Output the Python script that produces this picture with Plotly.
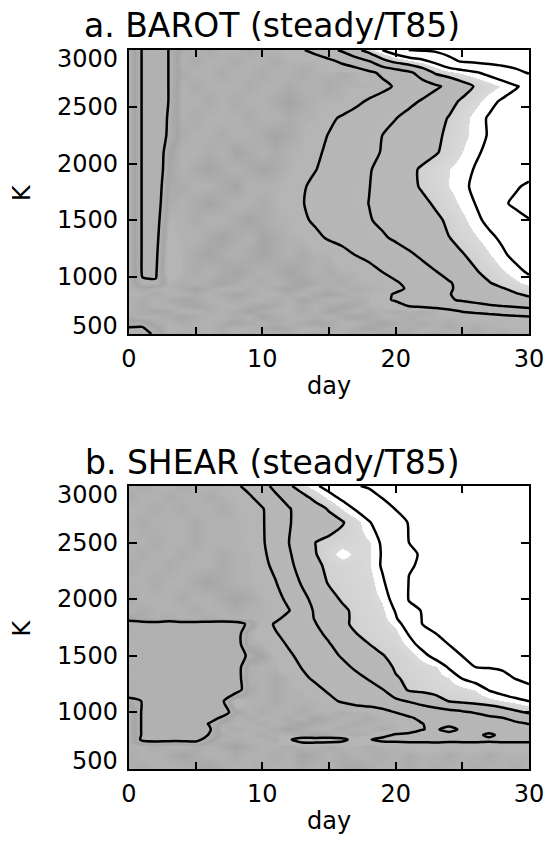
import plotly.graph_objects as go

# ---------------- data ----------------
days = list(range(31))

tick_days = [0, 5, 10, 15, 20, 25, 30]
tick_day_text = ["0", "", "10", "", "20", "", "30"]
tick_k = [500, 1000, 1500, 2000, 2500, 3000]

title_a = "a. BAROT (steady/T85)"
title_b = "b. SHEAR (steady/T85)"

# Panel a: field values (rows at K levels listed in barot_k)
barot_k = [500, 550, 600, 650, 700, 750, 800, 850, 900, 950, 1050, 1200, 1350,
           1500, 1650, 1800, 1950, 2100, 2250, 2400, 2550, 2680, 2800, 2900, 3000]

barot_k500 = [6.15, 6.2, 5.9, 5.5, 5.6, 5.5, 5.5, 5.6, 5.5, 5.6, 5.5, 5.5, 5.6, 5.5, 5.6, 5.5, 5.5, 5.6, 5.5, 5.6, 5.7, 5.6, 5.5, 5.6, 5.5, 5.5, 5.6, 5.5, 5.6, 5.5, 5.5]
barot_k550 = [6.03, 6.05, 5.75, 5.5, 5.5, 5.6, 5.5, 5.6, 5.5, 5.5, 5.6, 5.7, 5.6, 5.5, 5.5, 5.6, 5.5, 5.6, 5.7, 5.6, 5.5, 5.6, 5.5, 5.5, 5.6, 5.5, 5.6, 5.5, 5.5, 5.45, 5.4]
barot_k600 = [5.85, 5.85, 5.6, 5.5, 5.6, 5.5, 5.5, 5.6, 5.7, 5.6, 5.5, 5.6, 5.5, 5.6, 5.7, 5.6, 5.5, 5.5, 5.6, 5.7, 5.6, 5.5, 5.6, 5.5, 5.6, 5.5, 5.5, 5.45, 5.4, 5.35, 5.3]
barot_k650 = [5.6, 5.5, 5.5, 5.6, 5.7, 5.6, 5.5, 5.5, 5.6, 5.5, 5.7, 5.6, 5.5, 5.5, 5.6, 5.5, 5.6, 5.7, 5.6, 5.5, 5.5, 5.6, 5.5, 5.5, 5.5, 5.45, 5.35, 5.28, 5.2, 5.13, 5.07]
barot_k700 = [5.5, 5.6, 5.7, 5.6, 5.5, 5.5, 5.6, 5.5, 5.6, 5.7, 5.6, 5.5, 5.5, 5.6, 5.5, 5.7, 5.6, 5.5, 5.6, 5.5, 5.6, 5.5, 5.6, 5.5, 5.23, 4.96, 4.84, 4.72, 4.6, 4.47, 4.35]
barot_k750 = [5.5, 5.6, 5.5, 5.5, 5.6, 5.7, 5.6, 5.5, 5.5, 5.6, 5.7, 5.6, 5.5, 5.6, 5.5, 5.6, 5.7, 5.6, 5.5, 5.5, 5.3, 4.94, 4.8, 4.65, 4.51, 4.36, 4.22, 4.07, 3.95, 3.85, 3.75]
barot_k800 = [5.5, 5.6, 5.5, 5.6, 5.7, 5.6, 5.5, 5.5, 5.6, 5.5, 5.5, 5.6, 5.5, 5.7, 5.6, 5.5, 5.5, 5.6, 5.5, 5.18, 4.91, 4.7, 4.49, 4.29, 4.08, 3.91, 3.76, 3.61, 3.45, 3.3, 3.15]
barot_k850 = [5.5, 5.5, 5.6, 5.5, 5.5, 5.6, 5.5, 5.6, 5.7, 5.6, 5.5, 5.5, 5.6, 5.5, 5.6, 5.7, 5.6, 5.5, 5.5, 5.22, 4.92, 4.7, 4.48, 4.26, 4.03, 3.83, 3.64, 3.45, 3.25, 3.06, 2.9]
barot_k900 = [5.5, 5.6, 5.5, 5.5, 5.6, 5.7, 5.6, 5.5, 5.5, 5.6, 5.5, 5.6, 5.7, 5.6, 5.5, 5.6, 5.5, 5.6, 5.5, 5.5, 5.2, 4.89, 4.62, 4.35, 4.08, 3.82, 3.56, 3.31, 3.05, 2.82, 2.6]
barot_k950 = [5.5, 5.97, 5.97, 5.5, 5.6, 5.5, 5.6, 5.7, 5.6, 5.5, 5.6, 5.5, 5.6, 5.7, 5.6, 5.5, 5.6, 5.5, 5.5, 5.42, 5.08, 4.81, 4.57, 4.32, 4.07, 3.75, 3.39, 3.04, 2.77, 2.51, 2.25]
barot_k1050 = [5.5, 6.03, 6.05, 5.3, 5.5, 5.6, 5.5, 5.6, 5.7, 5.6, 5.5, 5.6, 5.7, 5.6, 5.5, 5.6, 5.5, 5.5, 5.3, 4.98, 4.74, 4.5, 4.26, 4.02, 3.71, 3.39, 3.06, 2.76, 2.47, 2.18, 1.9]
barot_k1200 = [5.5, 6.03, 6.1, 5.3, 5.5, 5.6, 5.7, 5.6, 5.5, 5.6, 5.7, 5.6, 5.5, 5.6, 5.5, 5.5, 5.28, 4.97, 4.75, 4.54, 4.32, 4.11, 3.86, 3.59, 3.32, 3.05, 2.75, 2.43, 2.11, 1.8, 1.5]
barot_k1350 = [5.5, 6.03, 6.15, 5.4, 5.5, 5.5, 5.6, 5.7, 5.6, 5.5, 5.7, 5.6, 5.5, 5.5, 5.17, 4.9, 4.7, 4.49, 4.29, 4.09, 3.88, 3.66, 3.45, 3.23, 3.01, 2.72, 2.43, 2.14, 1.88, 1.64, 1.4]
barot_k1500 = [5.5, 6.03, 6.2, 5.49, 5.5, 5.6, 5.5, 5.5, 5.6, 5.7, 5.6, 5.5, 5.47, 5.13, 4.88, 4.67, 4.46, 4.26, 4.05, 3.86, 3.68, 3.5, 3.31, 3.13, 2.89, 2.52, 2.15, 1.84, 1.58, 1.31, 1.05]
barot_k1650 = [5.5, 6.03, 6.25, 5.59, 5.5, 5.6, 5.7, 5.6, 5.5, 5.5, 5.6, 5.5, 5.37, 5.03, 4.81, 4.61, 4.4, 4.2, 3.99, 3.78, 3.57, 3.36, 3.15, 2.91, 2.6, 2.29, 1.98, 1.55, 1.13, 0.84, 0.6]
barot_k1800 = [5.5, 6.03, 6.3, 5.63, 5.6, 5.5, 5.5, 5.6, 5.7, 5.5, 5.5, 5.5, 5.4, 5.07, 4.84, 4.63, 4.43, 4.22, 4.02, 3.75, 3.47, 3.19, 2.92, 2.66, 2.39, 2.13, 1.87, 1.62, 1.36, 1.1, 0.85]
barot_k1950 = [5.5, 6.03, 6.4, 5.67, 5.5, 5.6, 5.7, 5.6, 5.5, 5.6, 5.7, 5.6, 5.5, 5.35, 5.02, 4.77, 4.54, 4.3, 4.06, 3.78, 3.48, 3.18, 2.9, 2.66, 2.41, 2.17, 1.96, 1.82, 1.68, 1.54, 1.4]
barot_k2100 = [5.5, 6.03, 6.4, 5.73, 5.5, 5.5, 5.6, 5.5, 5.7, 5.6, 5.5, 5.6, 5.5, 5.47, 5.13, 4.86, 4.64, 4.41, 4.18, 3.96, 3.73, 3.51, 3.29, 3.07, 2.76, 2.41, 2.07, 1.89, 1.76, 1.63, 1.5]
barot_k2250 = [5.5, 6.03, 6.4, 5.9, 5.6, 5.5, 5.5, 5.6, 5.5, 5.5, 5.6, 5.7, 5.6, 5.5, 5.28, 4.96, 4.72, 4.48, 4.24, 4.0, 3.78, 3.57, 3.35, 3.13, 2.87, 2.55, 2.23, 1.95, 1.8, 1.65, 1.5]
barot_k2400 = [5.5, 6.03, 6.4, 5.93, 5.5, 5.6, 5.5, 5.5, 5.5, 5.6, 5.5, 5.5, 5.6, 5.5, 5.5, 5.17, 4.89, 4.67, 4.46, 4.24, 4.02, 3.76, 3.5, 3.24, 2.96, 2.59, 2.22, 1.94, 1.79, 1.65, 1.5]
barot_k2550 = [5.5, 6.03, 6.4, 5.98, 5.5, 5.5, 5.6, 5.5, 5.6, 5.5, 5.5, 5.6, 5.7, 5.6, 5.5, 5.5, 5.5, 5.2, 4.9, 4.67, 4.43, 4.19, 3.93, 3.59, 3.24, 2.89, 2.54, 2.18, 1.92, 1.76, 1.6]
barot_k2680 = [5.5, 6.03, 6.4, 5.98, 5.5, 5.6, 5.5, 5.5, 5.5, 5.6, 5.5, 5.5, 5.6, 5.5, 5.5, 5.6, 5.5, 5.5, 5.5, 5.22, 4.91, 4.65, 4.4, 4.14, 3.8, 3.34, 2.93, 2.64, 2.35, 2.06, 1.8]
barot_k2800 = [5.5, 6.03, 6.4, 5.98, 5.6, 5.5, 5.5, 5.6, 5.5, 5.5, 5.6, 5.5, 5.5, 5.6, 5.5, 5.5, 5.6, 5.5, 5.17, 4.84, 4.52, 4.19, 3.58, 2.88, 2.61, 2.35, 2.08, 1.8, 1.51, 1.23, 0.94]
barot_k2900 = [5.5, 6.03, 6.4, 5.98, 5.5, 5.6, 5.5, 5.5, 5.6, 5.5, 5.5, 5.6, 5.5, 5.5, 5.5, 5.2, 4.84, 4.44, 4.04, 3.28, 2.81, 2.51, 2.21, 1.81, 1.19, 0.94, 0.85, 0.76, 0.68, 0.59, 0.5]
barot_k3000 = [5.5, 6.03, 6.4, 5.98, 5.6, 5.5, 5.6, 5.5, 5.5, 5.6, 5.5, 5.5, 5.4, 5.07, 4.69, 4.29, 3.85, 3.26, 2.65, 2.0, 1.47, 0.99, 0.92, 0.84, 0.76, 0.68, 0.61, 0.53, 0.45, 0.38, 0.3]

# Panel b: field values (rows at K levels listed in shear_k)
shear_k = [500, 620, 700, 760, 800, 850, 900, 950, 1000, 1100, 1200, 1300, 1400, 1500,
           1600, 1700, 1780, 1830, 1900, 2000, 2150, 2300, 2400, 2500, 2680, 2800, 2900, 3000]

shear_k500 = [5.5, 5.6, 5.5, 5.5, 5.5, 5.6, 5.7, 5.6, 5.5, 5.5, 5.6, 5.5, 5.5, 5.6, 5.5, 5.5, 5.6, 5.7, 5.6, 5.5, 5.5, 5.6, 5.5, 5.6, 5.5, 5.5, 5.6, 5.5, 5.5, 5.6, 5.5]
shear_k620 = [5.6, 5.5, 5.5, 5.6, 5.7, 5.6, 5.5, 5.5, 5.6, 5.5, 5.5, 5.6, 5.5, 5.7, 5.6, 5.5, 5.6, 5.5, 5.5, 5.6, 5.5, 5.6, 5.5, 5.5, 5.6, 5.5, 5.5, 5.6, 5.5, 5.5, 5.5]
shear_k700 = [5.5, 5.5, 5.6, 5.5, 5.5, 5.6, 5.5, 5.6, 5.7, 5.6, 5.5, 5.5, 5.6, 5.5, 5.5, 5.6, 5.5, 5.5, 5.6, 5.5, 5.5, 5.4, 5.4, 5.4, 5.45, 5.4, 5.4, 5.45, 5.4, 5.4, 5.4]
shear_k760 = [5.5, 6.1, 6.15, 6.15, 6.15, 6.15, 5.78, 5.5, 5.6, 5.5, 5.5, 5.6, 5.1, 4.6, 4.6, 4.6, 4.8, 5.3, 5.05, 4.8, 4.75, 4.75, 4.75, 4.7, 4.75, 4.75, 4.75, 4.8, 4.75, 4.75, 4.75]
shear_k800 = [5.5, 6.05, 6.3, 6.3, 6.4, 6.3, 5.97, 5.6, 5.5, 5.5, 5.6, 5.5, 5.5, 5.6, 5.7, 5.6, 5.5, 5.6, 5.5, 5.24, 4.9, 4.8, 4.75, 4.7, 4.7, 4.7, 4.75, 5.2, 4.75, 4.65, 4.55]
shear_k850 = [5.5, 6.05, 6.3, 6.3, 6.3, 6.4, 6.08, 5.5, 5.6, 5.5, 5.5, 5.6, 5.7, 5.6, 5.5, 5.5, 5.6, 5.5, 5.5, 5.6, 5.5, 5.35, 5.02, 4.9, 5.25, 4.85, 4.7, 4.6, 4.5, 4.4, 4.3]
shear_k900 = [5.5, 6.05, 6.3, 6.4, 6.3, 6.3, 5.97, 5.6, 5.5, 5.5, 5.6, 5.5, 5.6, 5.7, 5.6, 5.5, 5.5, 5.6, 5.5, 5.5, 5.5, 5.34, 5.01, 4.88, 4.75, 4.63, 4.5, 4.38, 4.25, 4.13, 3.98]
shear_k950 = [5.5, 6.05, 6.3, 6.3, 6.4, 6.3, 6.3, 5.87, 5.5, 5.6, 5.5, 5.5, 5.6, 5.5, 5.7, 5.6, 5.5, 5.5, 5.6, 5.5, 5.4, 5.07, 4.89, 4.74, 4.6, 4.46, 4.32, 4.17, 4.03, 3.78, 3.5]
shear_k1000 = [5.5, 6.05, 6.3, 6.4, 6.3, 6.3, 6.3, 6.3, 5.7, 5.5, 5.6, 5.5, 5.5, 5.6, 5.5, 5.5, 5.6, 5.5, 5.5, 5.31, 4.99, 4.82, 4.65, 4.48, 4.31, 4.14, 3.95, 3.69, 3.43, 3.16, 2.9]
shear_k1100 = [5.8, 6.02, 6.3, 6.3, 6.4, 6.3, 6.3, 6.08, 5.3, 5.5, 5.5, 5.6, 5.5, 5.5, 5.5, 5.18, 4.91, 4.72, 4.53, 4.35, 4.16, 3.94, 3.62, 3.29, 2.97, 2.85, 2.72, 2.58, 2.42, 2.22, 1.99]
shear_k1200 = [6.5, 6.3, 6.3, 6.4, 6.3, 6.3, 6.3, 6.4, 6.3, 5.63, 5.5, 5.6, 5.5, 5.5, 5.17, 4.89, 4.68, 4.47, 4.26, 4.04, 3.49, 2.9, 2.82, 2.74, 2.65, 2.55, 2.38, 1.96, 1.68, 1.39, 1.1]
shear_k1300 = [6.3, 6.4, 6.3, 6.3, 6.3, 6.4, 6.3, 6.3, 6.3, 5.55, 5.5, 5.6, 5.5, 5.15, 4.88, 4.65, 4.43, 4.2, 3.95, 3.5, 3.05, 2.9, 2.75, 2.6, 2.4, 1.98, 1.72, 1.45, 1.18, 0.98, 0.9]
shear_k1400 = [6.4, 6.3, 6.3, 6.3, 6.4, 6.3, 6.3, 6.3, 6.3, 5.55, 5.5, 5.5, 5.28, 4.96, 4.7, 4.44, 4.18, 3.9, 3.57, 3.24, 2.93, 2.8, 2.65, 2.45, 1.93, 1.43, 0.99, 0.96, 0.92, 0.89, 0.85]
shear_k1500 = [6.3, 6.3, 6.4, 6.3, 6.3, 6.3, 6.4, 6.3, 6.3, 5.9, 5.68, 5.44, 5.11, 4.8, 4.51, 4.22, 3.93, 3.63, 3.33, 3.03, 2.85, 2.68, 2.22, 1.77, 1.36, 0.99, 0.95, 0.91, 0.88, 0.84, 0.8]
shear_k1600 = [6.3, 6.4, 6.3, 6.3, 6.4, 6.3, 6.3, 6.3, 6.3, 5.55, 5.5, 5.25, 4.92, 4.63, 4.34, 4.05, 3.71, 3.36, 3.01, 2.85, 2.68, 2.25, 1.77, 1.37, 0.99, 0.96, 0.93, 0.9, 0.86, 0.83, 0.8]
shear_k1700 = [6.4, 6.3, 6.4, 6.3, 6.3, 6.4, 6.3, 6.3, 6.3, 5.55, 5.3, 5.04, 4.75, 4.46, 4.17, 3.83, 3.42, 3.01, 2.85, 2.7, 2.5, 1.93, 1.46, 0.99, 0.96, 0.92, 0.89, 0.85, 0.82, 0.78, 0.75]
shear_k1780 = [6.4, 6.3, 6.3, 6.4, 6.3, 6.3, 6.3, 6.4, 6.3, 5.87, 5.36, 4.91, 4.61, 4.32, 4.03, 3.59, 3.13, 2.88, 2.74, 2.6, 2.3, 1.62, 0.99, 0.95, 0.92, 0.88, 0.84, 0.81, 0.77, 0.74, 0.7]
shear_k1830 = [5.7, 5.6, 5.5, 5.6, 5.5, 5.5, 5.6, 5.5, 5.5, 5.5, 5.47, 5.14, 4.76, 4.35, 3.94, 3.55, 3.15, 2.87, 2.72, 2.55, 2.08, 1.35, 0.98, 0.94, 0.91, 0.87, 0.84, 0.8, 0.77, 0.73, 0.7]
shear_k1900 = [5.5, 5.6, 5.5, 5.5, 5.5, 5.6, 5.5, 5.5, 5.6, 5.5, 5.5, 5.37, 5.03, 4.43, 3.88, 3.51, 3.14, 2.85, 2.7, 2.5, 1.95, 1.19, 0.97, 0.93, 0.89, 0.85, 0.81, 0.77, 0.73, 0.69, 0.65]
shear_k2000 = [5.6, 5.5, 5.5, 5.5, 5.6, 5.5, 5.5, 5.6, 5.7, 5.6, 5.5, 5.24, 4.83, 4.24, 3.73, 3.26, 2.92, 2.78, 2.62, 2.35, 1.71, 0.96, 0.92, 0.88, 0.84, 0.8, 0.76, 0.72, 0.68, 0.64, 0.6]
shear_k2150 = [5.5, 5.5, 5.6, 5.5, 5.5, 5.6, 5.7, 5.6, 5.5, 5.5, 5.37, 5.03, 4.47, 3.89, 3.38, 2.93, 2.8, 2.68, 2.6, 2.1, 1.54, 0.98, 0.93, 0.88, 0.83, 0.79, 0.74, 0.69, 0.64, 0.6, 0.55]
shear_k2300 = [5.6, 5.5, 5.5, 5.6, 5.5, 5.5, 5.5, 5.6, 5.5, 5.5, 5.22, 4.8, 4.2, 3.65, 3.14, 2.85, 2.75, 2.62, 2.45, 1.92, 1.48, 1.03, 0.96, 0.91, 0.86, 0.81, 0.76, 0.7, 0.65, 0.6, 0.55]
shear_k2400 = [5.5, 5.6, 5.5, 5.5, 5.6, 5.5, 5.5, 5.6, 5.5, 5.48, 5.15, 4.67, 4.09, 3.55, 3.02, 2.7, 2.1, 2.6, 2.45, 1.94, 1.51, 1.07, 0.96, 0.91, 0.86, 0.81, 0.76, 0.7, 0.65, 0.6, 0.55]
shear_k2500 = [5.5, 5.5, 5.6, 5.5, 5.5, 5.6, 5.5, 5.5, 5.5, 5.43, 5.09, 4.58, 4.0, 3.49, 2.99, 2.85, 2.72, 2.6, 2.45, 1.89, 1.45, 1.0, 0.95, 0.9, 0.85, 0.8, 0.75, 0.7, 0.65, 0.6, 0.55]
shear_k2680 = [5.5, 5.6, 5.5, 5.5, 5.5, 5.6, 5.5, 5.5, 5.5, 5.4, 5.07, 4.57, 4.04, 3.78, 3.54, 3.3, 3.06, 2.59, 2.05, 1.63, 1.21, 0.97, 0.92, 0.87, 0.82, 0.76, 0.71, 0.66, 0.61, 0.55, 0.5]
shear_k2800 = [5.5, 5.5, 5.6, 5.5, 5.6, 5.5, 5.5, 5.6, 5.5, 5.39, 5.05, 4.57, 4.05, 3.67, 3.31, 2.92, 2.4, 1.92, 1.56, 1.21, 0.98, 0.93, 0.88, 0.82, 0.77, 0.72, 0.66, 0.61, 0.56, 0.5, 0.45]
shear_k2900 = [5.6, 5.5, 5.5, 5.6, 5.5, 5.5, 5.6, 5.5, 5.46, 5.12, 4.67, 4.15, 3.68, 3.24, 2.76, 2.25, 1.83, 1.5, 1.17, 0.98, 0.92, 0.87, 0.82, 0.77, 0.71, 0.66, 0.61, 0.56, 0.5, 0.45, 0.4]
shear_k3000 = [5.5, 5.6, 5.5, 5.5, 5.6, 5.5, 5.5, 5.48, 5.15, 4.75, 4.29, 3.76, 3.13, 2.6, 2.1, 1.72, 1.38, 1.03, 0.95, 0.9, 0.85, 0.79, 0.74, 0.68, 0.63, 0.57, 0.52, 0.46, 0.41, 0.35, 0.3]

# ---------------- assemble grids ----------------
barot_rows = [barot_k500, barot_k550, barot_k600, barot_k650, barot_k700, barot_k750,
              barot_k800, barot_k850, barot_k900, barot_k950, barot_k1050, barot_k1200,
              barot_k1350, barot_k1500, barot_k1650, barot_k1800, barot_k1950, barot_k2100,
              barot_k2250, barot_k2400, barot_k2550, barot_k2680, barot_k2800, barot_k2900,
              barot_k3000]
shear_rows = [shear_k500, shear_k620, shear_k700, shear_k760, shear_k800, shear_k850,
              shear_k900, shear_k950, shear_k1000, shear_k1100, shear_k1200, shear_k1300,
              shear_k1400, shear_k1500, shear_k1600, shear_k1700, shear_k1780, shear_k1830,
              shear_k1900, shear_k2000, shear_k2150, shear_k2300, shear_k2400, shear_k2500,
              shear_k2680, shear_k2800, shear_k2900, shear_k3000]

# ---------------- style ----------------
ZMAX = 7.0
def p(v):
    return v / ZMAX

gray_scale = [
    [0.0, "#ffffff"], [p(2.4), "#ffffff"],
    [p(2.4), "#dadada"], [p(3.0), "#d0d0d0"],
    [p(3.0), "#b8b8b8"], [p(5.45), "#b5b5b5"],
    [p(5.7), "#a5a5a5"], [p(6.0), "#b2b2b2"], [1.0, "#aeaeae"],
]

FONT = "DejaVu Sans"

def contour(z, k, xa, ya):
    return go.Contour(
        x=days, y=k, z=z, xaxis=xa, yaxis=ya,
        colorscale=gray_scale, zmin=0, zmax=ZMAX, showscale=False,
        contours=dict(coloring="heatmap", start=1, end=6, size=1, showlines=True),
        line=dict(color="black", width=2.5, smoothing=0.7),
        hoverinfo="skip",
    )

fig = go.Figure()
fig.add_trace(contour(barot_rows, barot_k, "x", "y"))
fig.add_trace(contour(shear_rows, shear_k, "x2", "y2"))

xcommon = dict(
    range=[0, 30], tickmode="array", tickvals=tick_days, ticktext=tick_day_text,
    ticks="inside", ticklen=7, tickwidth=1.5, tickcolor="black",
    showline=True, linecolor="black", linewidth=2, mirror="ticks",
    showgrid=False, zeroline=False,
    tickfont=dict(family=FONT, size=24, color="black"),
    ticklabelstandoff=2,
)
ycommon = dict(
    range=[500, 3000], tickmode="array", tickvals=tick_k,
    ticks="inside", ticklen=8, tickwidth=1.5, tickcolor="black",
    showline=True, linecolor="black", linewidth=2, mirror="ticks",
    showgrid=False, zeroline=False, showticklabels=False,
)

L, R, T, B = 129, 16, 50, 79
W, H = 556, 848
pw, ph = W - L - R, H - T - B

def px_x(x):
    return (x - L) / pw

def px_y(y):
    return (H - B - y) / ph

fig.update_layout(
    width=W, height=H,
    margin=dict(l=L, r=R, t=T, b=B, pad=0),
    paper_bgcolor="white", plot_bgcolor="white",
    showlegend=False,
    xaxis=dict(domain=[0, 1], anchor="y", **xcommon),
    yaxis=dict(domain=[px_y(334), 1.0], anchor="x", **ycommon),
    xaxis2=dict(domain=[0, 1], anchor="y2", **xcommon),
    yaxis2=dict(domain=[0.0, px_y(486)], anchor="x2", **ycommon),
)

ann = []
ann.append(dict(text=title_a, x=px_x(276), y=px_y(26), xref="paper", yref="paper",
                showarrow=False, xanchor="center", yanchor="middle",
                font=dict(family=FONT, size=33, color="black")))
ann.append(dict(text=title_b, x=px_x(276), y=px_y(462), xref="paper", yref="paper",
                showarrow=False, xanchor="center", yanchor="middle",
                font=dict(family=FONT, size=33, color="black")))
for yy in (386, 821):
    ann.append(dict(text="day", x=0.5, y=px_y(yy), xref="paper", yref="paper",
                    showarrow=False, xanchor="center", yanchor="middle",
                    font=dict(family=FONT, size=24, color="black")))
for yy in (192, 627.5):
    ann.append(dict(text="K", x=px_x(19), y=px_y(yy), xref="paper", yref="paper",
                    showarrow=False, xanchor="center", yanchor="middle", textangle=-90,
                    font=dict(family=FONT, size=24, color="black")))
# y tick labels (end labels kept inside the axis span, as in the original)
for yref in ("y", "y2"):
    for v in tick_k:
        shift = -9 if v == tick_k[-1] else (8 if v == tick_k[0] else 0)
        ann.append(dict(text=str(v), x=0, xref="paper", y=v, yref=yref,
                        xanchor="right", yanchor="middle", xshift=-9, yshift=shift,
                        showarrow=False,
                        font=dict(family=FONT, size=24, color="black")))
fig.update_layout(annotations=ann)

fig.write_html(
    "out.html",
    config={"displayModeBar": False},
    post_script="document.body.style.margin='0';document.body.style.overflow='hidden';",
)
